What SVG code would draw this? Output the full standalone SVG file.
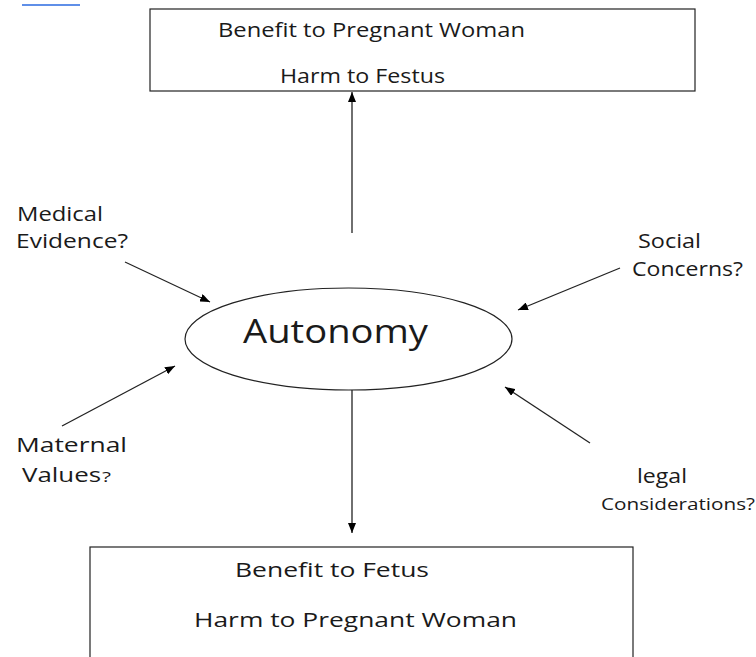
<svg xmlns="http://www.w3.org/2000/svg" width="756" height="657" viewBox="0 0 756 657">
<defs>
<marker id="ah" viewBox="0 0 10 10" refX="10" refY="5" markerWidth="10" markerHeight="8" markerUnits="userSpaceOnUse" orient="auto" preserveAspectRatio="none">
<path d="M0,0 L10,5 L0,10 z" fill="#000"/>
</marker>
<style>
text{font-family:"Open Sans","Noto Sans",sans-serif;fill:#1a1a1a}
.box{fill:#fff;stroke:#222;stroke-width:1.2}
.c{stroke:#222;stroke-width:1.3;fill:none;marker-end:url(#ah)}
.t{font-size:20px}
.s{font-size:16px}
.q{font-size:15px}
</style>
</defs>
<rect width="756" height="657" fill="#fff"/>
<line x1="22" y1="5" x2="80" y2="5" stroke="#2a6ae0" stroke-width="1.5"/>
<g id="top">
<rect class="box" x="150" y="9" width="545" height="82"/>
<text class="t" x="218" y="37" textLength="307" lengthAdjust="spacingAndGlyphs">Benefit to Pregnant Woman</text>
<text class="t" x="280" y="83" textLength="165" lengthAdjust="spacingAndGlyphs">Harm to Festus</text>
</g>
<g id="autonomy">
<ellipse cx="348.5" cy="339" rx="163.5" ry="51" fill="#fff" stroke="#222" stroke-width="1.2"/>
<text x="243" y="343" font-size="32" textLength="185" lengthAdjust="spacingAndGlyphs">Autonomy</text>
</g>
<g id="bottom">
<rect class="box" x="90" y="547" width="543" height="120"/>
<text class="t" x="235" y="577" textLength="194" lengthAdjust="spacingAndGlyphs">Benefit to Fetus</text>
<text class="t" x="194" y="627" textLength="323" lengthAdjust="spacingAndGlyphs">Harm to Pregnant Woman</text>
</g>
<g id="medical">
<text class="t" x="17" y="221" textLength="86" lengthAdjust="spacingAndGlyphs">Medical</text>
<text class="t" x="16" y="248" textLength="112" lengthAdjust="spacingAndGlyphs">Evidence?</text>
</g>
<g id="maternal">
<text class="t" x="16" y="452" textLength="111" lengthAdjust="spacingAndGlyphs">Maternal</text>
<text class="t" x="22" y="482" textLength="79" lengthAdjust="spacingAndGlyphs">Values</text>
<text class="q" x="102" y="482" textLength="9" lengthAdjust="spacingAndGlyphs">?</text>
</g>
<g id="social">
<text class="t" x="638" y="248" textLength="63" lengthAdjust="spacingAndGlyphs">Social</text>
<text class="t" x="632" y="276" textLength="111" lengthAdjust="spacingAndGlyphs">Concerns?</text>
</g>
<g id="legal">
<text class="t" x="637" y="483" textLength="50" lengthAdjust="spacingAndGlyphs">legal</text>
<text class="s" x="601" y="510" textLength="154" lengthAdjust="spacingAndGlyphs">Considerations?</text>
</g>
<g id="connectors">
<line class="c" x1="352" y1="233" x2="352" y2="92"/>
<line class="c" x1="352" y1="390" x2="352" y2="533"/>
<line class="c" x1="125" y1="262" x2="210" y2="302"/>
<line class="c" x1="62" y1="426" x2="175" y2="366"/>
<line class="c" x1="620" y1="268" x2="518" y2="310"/>
<line class="c" x1="590" y1="443" x2="505" y2="387"/>
</g>
</svg>
